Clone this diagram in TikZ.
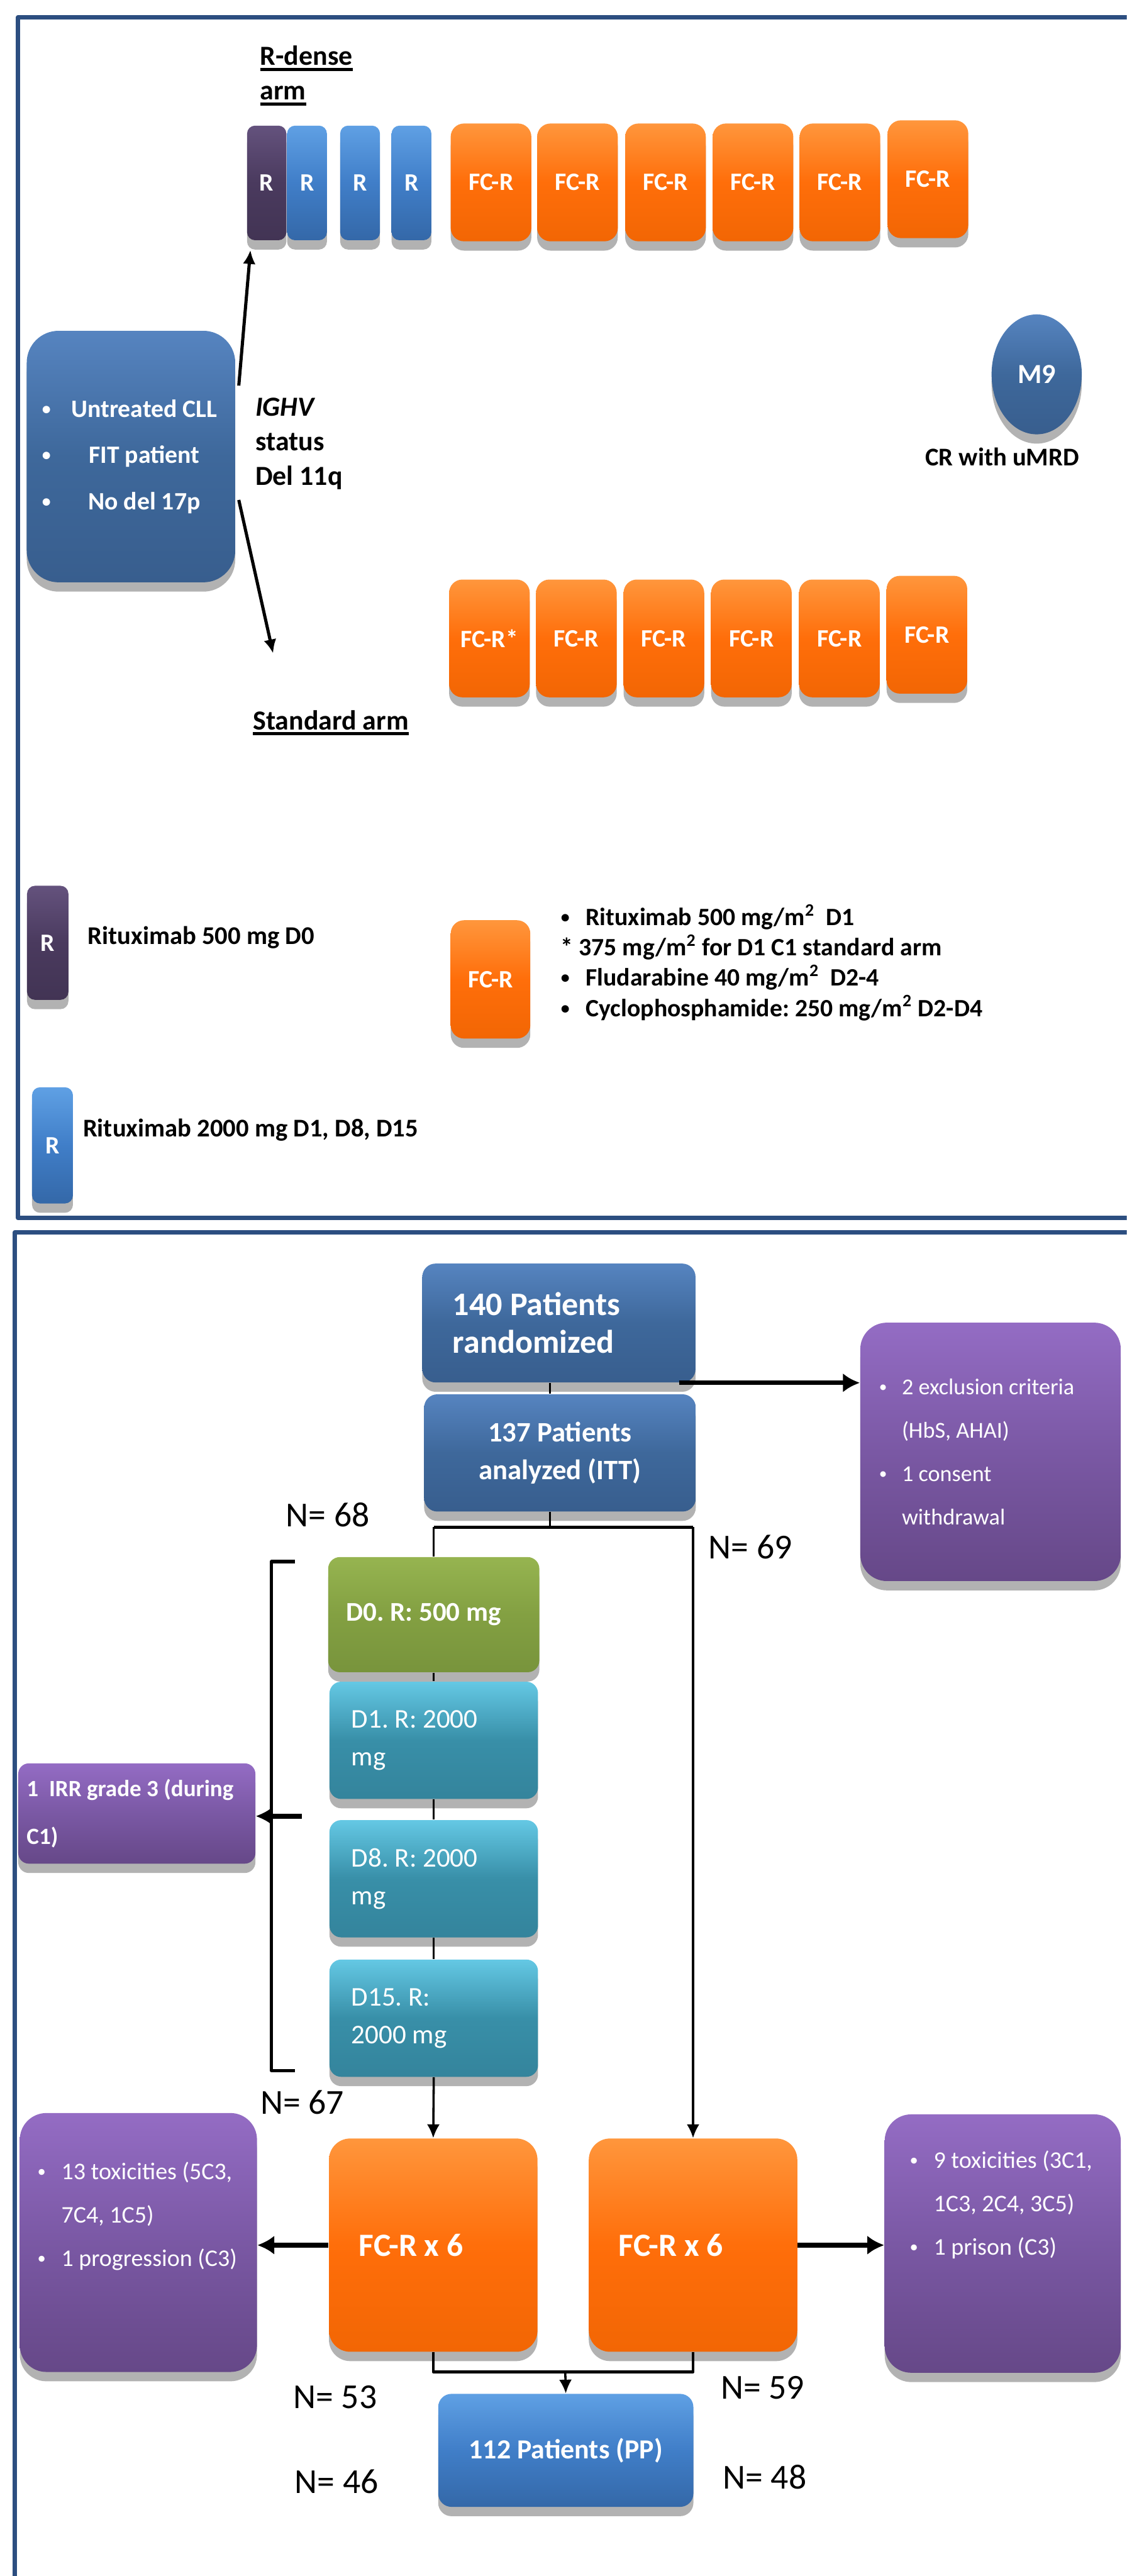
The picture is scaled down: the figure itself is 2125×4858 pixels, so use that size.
\documentclass[tikz,border=0pt]{standalone}
\usepackage{fontspec}
\usepackage{graphicx}
\setmainfont{Carlito}
\usetikzlibrary{arrows.meta,calc,shadows,shapes.geometric}

\definecolor{frameblue}{RGB}{44,78,128}
\definecolor{navytop}{RGB}{86,132,192}
\definecolor{navymid}{RGB}{62,104,155}
\definecolor{navybot}{RGB}{56,94,142}
\definecolor{rputop}{RGB}{100,82,125}
\definecolor{rpumid}{RGB}{74,58,94}
\definecolor{rpubot}{RGB}{66,52,84}
\definecolor{rbltop}{RGB}{95,160,228}
\definecolor{rblmid}{RGB}{64,126,200}
\definecolor{rblbot}{RGB}{52,104,168}
\definecolor{ortop}{RGB}{255,150,60}
\definecolor{ormid}{RGB}{255,110,10}
\definecolor{orbot}{RGB}{242,102,4}
\definecolor{lltop}{RGB}{148,108,196}
\definecolor{llmid}{RGB}{122,88,164}
\definecolor{llbot}{RGB}{102,72,136}
\definecolor{grtop}{RGB}{150,180,80}
\definecolor{grmid}{RGB}{131,160,66}
\definecolor{grbot}{RGB}{120,148,60}
\definecolor{tltop}{RGB}{100,200,228}
\definecolor{tlmid}{RGB}{56,143,168}
\definecolor{tlbot}{RGB}{52,132,156}

\frenchspacing
% small bullet and thick underline
\newcommand{\smalldot}{\raisebox{0.1em}{\scalebox{0.7}{\textbullet}}}
\newcommand{\bul}{\makebox[1em][l]{\smalldot}}
\newcommand{\ulx}[1]{\setbox0\hbox{#1}\leavevmode\rlap{\rule[-0.2em]{\wd0}{1.6pt}}\box0}

\begin{document}
\begin{tikzpicture}[x=0.01cm, y=-0.01cm, line join=round,
  box/.style={text=white, inner sep=0pt, align=center,
    drop shadow={shadow xshift=0pt, shadow yshift=-5pt, opacity=0.3, fill=black}},
  navy/.style={box, top color=navytop, bottom color=navybot, middle color=navymid},
  rpurple/.style={box, top color=rputop, bottom color=rpubot, middle color=rpumid,
    rounded corners=0.15cm, minimum width=0.74cm, minimum height=2.16cm,
    font=\bfseries\fontsize{13.4}{16}\selectfont},
  rblue/.style={box, top color=rbltop, bottom color=rblbot, middle color=rblmid,
    rounded corners=0.15cm, minimum width=0.75cm, minimum height=2.16cm,
    font=\bfseries\fontsize{13.4}{16}\selectfont},
  fcr/.style={box, top color=ortop, bottom color=orbot, middle color=ormid,
    rounded corners=0.25cm, minimum width=1.52cm, minimum height=2.22cm,
    font=\bfseries\fontsize{13.4}{16}\selectfont},
  lilac/.style={box, top color=lltop, bottom color=llbot, middle color=llmid, rounded corners=0.5cm},
  dgreen/.style={box, top color=grtop, bottom color=grbot, middle color=grmid,
    rounded corners=0.22cm, minimum width=3.98cm, minimum height=2.17cm,
    text width=3.3cm, align=flush left, font=\bfseries\fontsize{14.5}{20.2}\selectfont},
  dteal/.style={box, top color=tltop, bottom color=tlbot, middle color=tlmid,
    rounded corners=0.22cm, minimum width=3.93cm, minimum height=2.21cm,
    text width=3.1cm, align=flush left, font=\fontsize{14.5}{20.2}\selectfont},
  lbl/.style={inner sep=0pt, font=\bfseries\fontsize{13.7}{16.4}\selectfont},
  title/.style={inner sep=0pt, align=left, font=\bfseries\fontsize{14.8}{18.5}\selectfont},
  nlbl/.style={inner sep=0pt, font=\fontsize{18.8}{22}\selectfont},
  boxtxt/.style={inner sep=0pt, align=left, text=white, font=\fontsize{12.8}{23.3}\selectfont},
  plain/.style={line width=1.2pt},
  link/.style={line width=1.2pt, -{Latex[length=0.26cm,width=0.24cm]}},
  bigarrow/.style={line width=2.5pt, -{Latex[length=0.32cm,width=0.36cm]}},
  frame/.style={draw=frameblue, line width=2.3pt}]

\useasboundingbox (0,0) rectangle (2125,4858);
\clip (0,0) rectangle (2125,4858);

% panel frames (right and bottom sides run off the page)
\draw[frame] (34,33) rectangle (2145,2297);
\draw[frame] (28,2324) rectangle (2145,4900);

%%%%%%%%%%%%%%%%%%%%%%%% upper panel: study design
\node[title, anchor=north west] (rdense) at (490,86) {\ulx{R-dense}\\\ulx{arm}};

% R-dense arm: R doses then six FC-R cycles
\node[rpurple] (r0) at (503,345) {R};
\node[rblue] (r1) at (579,345) {R};
\node[rblue] (r2) at (679,345) {R};
\node[rblue] (r3) at (776,345) {R};
\foreach \x/\y [count=\i] in {926/344,1089/344,1255/344,1420/344,1584/344,1750/338}
  \node[fcr] (rd\i) at (\x,\y) {FC-R};

% standard arm: six FC-R cycles
\foreach \x/\y/\t [count=\i] in {923/1204/FC-R*,1087/1204/FC-R,1252/1204/FC-R,1417/1204/FC-R,1583/1204/FC-R,1748/1197/FC-R}
  \node[fcr] (sd\i) at (\x,\y) {\t};
\node[title, anchor=base] (std) at (624,1376) {\ulx{Standard arm}};

% patients
\node[navy, minimum width=3.93cm, minimum height=4.74cm, rounded corners=0.6cm,
  font=\bfseries\fontsize{13.4}{24.8}\selectfont] (pt) at (247,861)
  {\makebox[0.5cm][l]{\smalldot}\makebox[2.85cm]{Untreated CLL}\\
   \makebox[0.5cm][l]{\smalldot}\makebox[2.85cm]{FIT patient}\\
   \makebox[0.5cm][l]{\smalldot}\makebox[2.85cm]{No del 17p}};
\node[title, anchor=north west] (ighv) at (481,750) {\textit{IGHV}\\status\\Del 11q};

% endpoint
\node[navy, ellipse, minimum width=1.7cm, minimum height=2.26cm,
  font=\bfseries\fontsize{14.8}{17}\selectfont] (m9) at (1955,706) {M9};
\node[lbl] (cr) at (1890,862) {CR with uMRD};

% randomisation arrows
\coordinate (stdtip) at (515,1232);
\draw[link, line width=1.7pt] ($(pt.north east)+(6,104)$) -- ($(r0.south west)+(7,18)$);
\draw[link, line width=1.7pt] ($(pt.south east)+(6,-156)$) -- (stdtip);

% legend
\node[rpurple, minimum width=0.78cm, minimum height=2.15cm] (lr0) at (90,1778) {R};
\node[lbl, anchor=west] (lr0t) at (165,1768) {Rituximab 500 mg D0};
\node[rblue, minimum width=0.77cm, minimum height=2.19cm] (lr1) at (99,2160) {R};
\node[lbl, anchor=west] (lr1t) at (156,2131) {Rituximab 2000 mg D1, D8, D15};
\node[fcr, minimum width=1.5cm, minimum height=2.23cm] (lfc) at (925,1847) {FC-R};
\node[lbl, anchor=north west, align=left, font=\bfseries\fontsize{13.4}{16.2}\selectfont] (lfct) at (1057,1705)
  {\bul Rituximab 500 mg/m\textsuperscript{2}\ \ D1\\
   * 375 mg/m\textsuperscript{2} for D1 C1 standard arm\\
   \bul Fludarabine 40 mg/m\textsuperscript{2}\ \ D2-4\\
   \bul Cyclophosphamide: 250 mg/m\textsuperscript{2} D2-D4};

%%%%%%%%%%%%%%%%%%%%%%%% lower panel: flow chart
\node[navy, minimum width=5.15cm, minimum height=2.24cm, rounded corners=0.25cm,
  text width=4.0cm, align=flush left, font=\bfseries\fontsize{17.6}{20.2}\selectfont] (rand) at (1054,2495)
  {140 Patients\\randomized};
\node[navy, minimum width=5.12cm, minimum height=2.21cm, rounded corners=0.25cm,
  font=\bfseries\fontsize{15.1}{20.5}\selectfont] (itt) at (1056,2740)
  {137 Patients\\analyzed (ITT)};
\node[lilac, minimum width=4.91cm, minimum height=4.87cm, text width=4.2cm, align=flush left,
  font=\fontsize{12.2}{23.3}\selectfont] (excl) at (1868,2738)
  {\bul 2 exclusion criteria\\\hspace*{1em}(HbS, AHAI)\\\bul 1 consent\\\hspace*{1em}withdrawal};

% R-dense induction
\node[dgreen] (d0) at (818,3045) {D0. R: 500 mg};
\node[dteal] (d1) at (818,3282) {D1. R: 2000\\mg};
\node[dteal] (d8) at (818,3543) {D8. R: 2000\\mg};
\node[dteal] (d15) at (818,3806) {D15. R:\\2000 mg};
\node[lilac, minimum width=4.47cm, minimum height=1.89cm, rounded corners=0.2cm, text width=4.15cm,
  align=flush left, font=\bfseries\fontsize{12.5}{25.9}\selectfont] (irr) at (258,3420)
  {1\ \ IRR grade 3 (during\\C1)};

% FC-R cycles
\node[fcr, minimum width=3.93cm, minimum height=4.02cm, rounded corners=0.4cm, text width=2.8cm,
  align=flush left, font=\bfseries\fontsize{17.4}{20}\selectfont] (f1) at (817,4234) {FC-R x 6};
\node[fcr, minimum width=3.93cm, minimum height=4.02cm, rounded corners=0.4cm, text width=2.8cm,
  align=flush left, font=\bfseries\fontsize{17.4}{20}\selectfont] (f2) at (1307,4234) {FC-R x 6};
\node[lilac, minimum width=4.47cm, minimum height=4.88cm] (tox1) at (261,4229) {};
\node[boxtxt, anchor=north west] (tox1t) at (70,4076)
  {\bul 13 toxicities (5C3,\\\hspace*{1em}7C4, 1C5)\\\bul 1 progression (C3)};
\node[lilac, minimum width=4.45cm, minimum height=4.87cm] (tox2) at (1891,4231) {};
\node[boxtxt, anchor=north west] (tox2t) at (1715,4055)
  {\bul 9 toxicities (3C1,\\\hspace*{1em}1C3, 2C4, 3C5)\\\bul 1 prison (C3)};
\node[box, top color=rbltop, bottom color=rblbot, middle color=rblmid, minimum width=4.81cm,
  minimum height=2.13cm, rounded corners=0.25cm, font=\bfseries\fontsize{14.8}{17}\selectfont] (pp) at (1067,4621)
  {112 Patients (PP)};

% patient numbers
\node[nlbl] (n68) at (618,2857) {N= 68};
\node[nlbl] (n69) at (1415,2918) {N= 69};
\node[nlbl] (n67) at (570,3965) {N= 67};
\node[nlbl] (n53) at (632,4521) {N= 53};
\node[nlbl] (n59) at (1438,4503) {N= 59};
\node[nlbl] (n46) at (635,4680) {N= 46};
\node[nlbl] (n48) at (1442,4671) {N= 48};

% connectors
\draw[plain] ($(rand.south)+(-17,0)$) -- ($(itt.north)+(-19,0)$);
\draw[bigarrow] ($(rand.south east)+(-32,0)$) -- (excl.west |- rand.south);
\coordinate (split) at (1037,2880);
\coordinate (splitL) at (d0.north |- split);
\coordinate (splitR) at (f2.north |- split);
\draw[plain] ($(itt.south)+(-19,0)$) -- (split);
\draw[plain, line width=1.6pt] (splitL) -- (splitR);
\draw[plain] (splitL) -- (d0.north);
\draw[link] (splitR) -- (f2.north);
\draw[plain] (d0.south) -- (d1.north);
\draw[plain] (d1.south) -- (d8.north);
\draw[plain] (d8.south) -- (d15.north);
\draw[link] (d15.south) -- (f1.north);

% bracket over the R-dense induction
\draw[line width=1.8pt] (556,2945) -- (512,2945) -- (512,3905) -- (556,3905);
\coordinate (brk) at (569,3425);
\draw[bigarrow] (brk) -- (irr.east |- brk);

\draw[bigarrow] (f1.west) -- (tox1.east |- f1.west);
\draw[bigarrow] (f2.east) -- (tox2.west |- f2.east);
\coordinate (jn) at (1066,4473);
\draw[plain, line width=1.5pt] (f1.south) -- (f1.south |- jn) -- (f2.south |- jn) -- (f2.south);
\draw[link] (jn) -- (pp.north);

\end{tikzpicture}
\end{document}
